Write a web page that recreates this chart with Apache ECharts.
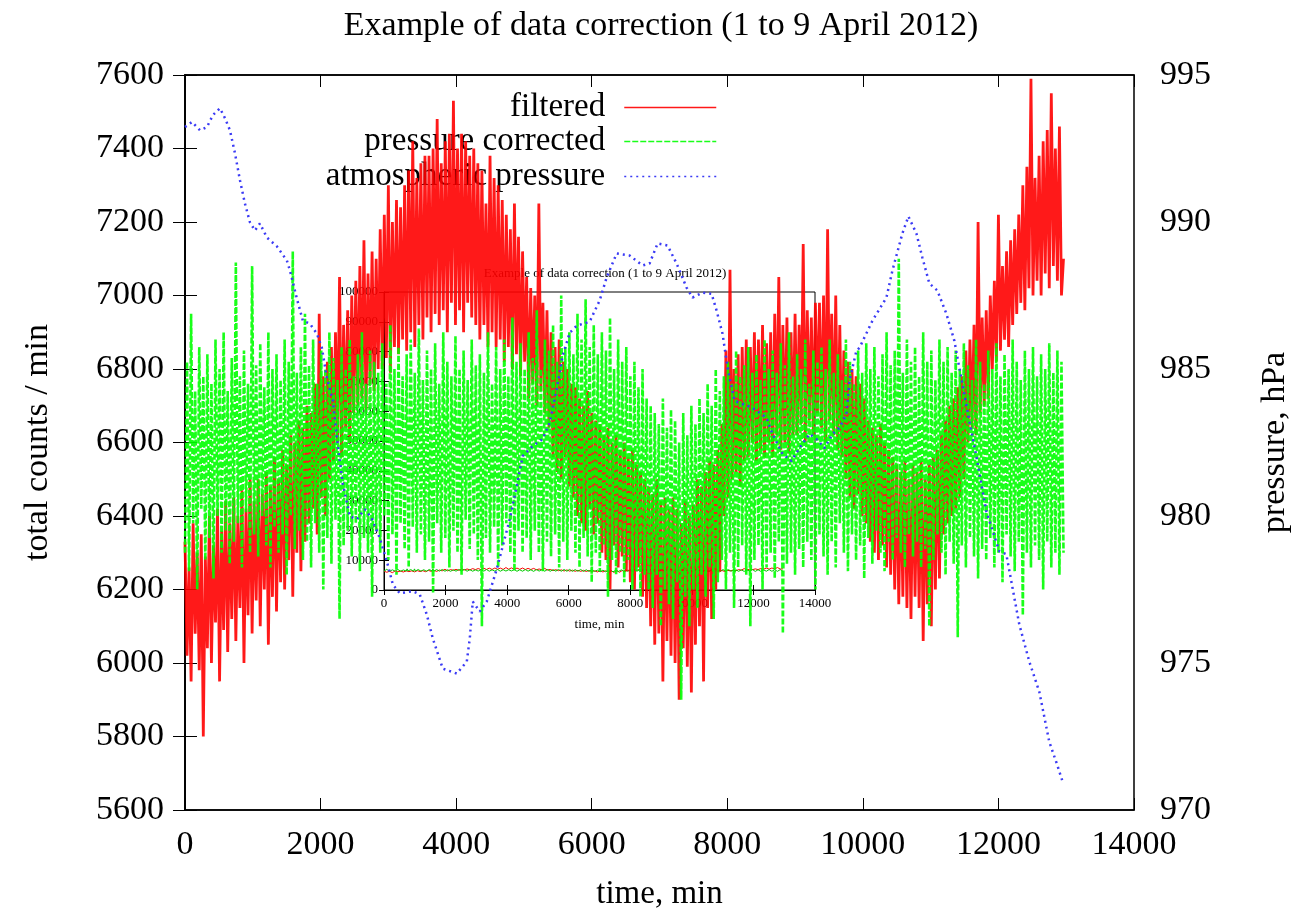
<!DOCTYPE html>
<html>
<head>
<meta charset="utf-8">
<script src="https://cdn.jsdelivr.net/npm/echarts@6/dist/echarts.min.js"></script>
<style>
  html, body { margin: 0; padding: 0; background: #fff; overflow: hidden; }
  #chart { width: 1293px; height: 915px; }
</style>
</head>
<body>
<div id="chart"></div>
<script>
// sampling step of the count series, minutes
var STEP_MIN = 30;

// filtered total counts / min (red), one value per STEP_MIN (12 values = 6 h per row)
var filteredCounts = [
  6330, 6020, 6260, 5950, 6380, 6080, 6300, 5980, 6350, 5800, 6290, 6040,
  6400, 6000, 6320, 6110, 6420, 5950, 6360, 6090, 6440, 6030, 6380, 6120,
  6450, 6060, 6400, 6150, 6470, 6000, 6420, 6130, 6500, 6080, 6440, 6170,
  6500, 6100, 6460, 6200, 6520, 6050, 6480, 6180, 6560, 6140, 6500, 6220,
  6580, 6200, 6540, 6280, 6620, 6180, 6600, 6300, 6660, 6250, 6640, 6330,
  6700, 6380, 6680, 6420, 6760, 6350, 6950, 6450, 6780, 6400, 6820, 6500,
  6860, 6550, 6900, 6600, 7050, 6560, 6920, 6640, 6960, 6600, 7000, 6680,
  7040, 6700, 7080, 6720, 7150, 6690, 7060, 6760, 7120, 6740, 7100, 6800,
  7180, 6800, 7220, 6830, 7300, 6790, 7200, 6860, 7260, 6840, 7240, 6880,
  7300, 6850, 7340, 6900, 7420, 6860, 7320, 6920, 7360, 6880, 7380, 6940,
  7380, 6900, 7400, 6950, 7480, 6920, 7360, 6960, 7420, 6900, 7440, 6980,
  7530, 6920, 7400, 6960, 7440, 6900, 7420, 6980, 7380, 6940, 7400, 6920,
  7360, 6880, 7340, 6920, 7250, 6860, 7380, 6900, 7320, 6860, 7300, 6880,
  7260, 6820, 7220, 6860, 7180, 6800, 7250, 6840, 7160, 6780, 7120, 6820,
  7050, 6720, 7020, 6760, 7000, 6700, 7250, 6740, 6980, 6680, 6960, 6640,
  6900, 6560, 6860, 6520, 6880, 6500, 6820, 6560, 6800, 6480, 6760, 6450,
  6750, 6400, 6720, 6380, 6700, 6360, 6740, 6420, 6680, 6350, 6660, 6380,
  6650, 6300, 6620, 6280, 6640, 6200, 6600, 6320, 6620, 6260, 6580, 6290,
  6600, 6250, 6560, 6220, 6580, 6200, 6540, 6260, 6520, 6180, 6500, 6150,
  6480, 6100, 6460, 6050, 6500, 6080, 6440, 5950, 6450, 6060, 6420, 6020,
  6450, 6000, 6420, 5900, 6380, 6040, 6440, 5990, 6400, 5920, 6430, 6050,
  6500, 6100, 6480, 5950, 6520, 6150, 6550, 6120, 6540, 6200, 6580, 6250,
  6650, 6400, 6850, 6450, 7070, 6500, 6800, 6520, 6840, 6480, 6860, 6550,
  6880, 6560, 6860, 6600, 6900, 6550, 6880, 6580, 6920, 6560, 6870, 6600,
  6900, 6560, 6950, 6620, 7050, 6580, 6920, 6600, 6940, 6570, 6900, 6620,
  6950, 6620, 6920, 6650, 7140, 6600, 6960, 6660, 6940, 6620, 6980, 6680,
  6980, 6640, 7000, 6600, 7180, 6660, 6950, 6620, 7000, 6580, 6920, 6560,
  6850, 6500, 6820, 6450, 6800, 6420, 6780, 6460, 6760, 6400, 6720, 6380,
  6660, 6330, 6640, 6300, 6620, 6280, 6650, 6320, 6600, 6260, 6580, 6240,
  6560, 6200, 6540, 6160, 6520, 6180, 6550, 6150, 6500, 6120, 6540, 6180,
  6520, 6150, 6550, 6060, 6500, 6160, 6540, 6100, 6560, 6200, 6580, 6230,
  6620, 6350, 6660, 6380, 6700, 6400, 6720, 6420, 6750, 6450, 6780, 6500,
  6850, 6600, 6880, 6640, 6920, 6620, 7200, 6680, 6940, 6700, 6960, 6720,
  7000, 6800, 7040, 6820, 7220, 6850, 7080, 6880, 7120, 6860, 7150, 6920,
  7180, 6950, 7220, 6980, 7300, 6960, 7350, 7020, 7590, 7000, 7320, 7040,
  7380, 7000, 7420, 7060, 7450, 7020, 7550, 7080, 7400, 7040, 7460, 7000,
  7100
];

// pressure corrected total counts / min (green), one value per STEP_MIN
var correctedCounts = [
  6300, 6820, 6250, 6950, 6380, 6740, 6200, 6860, 6420, 6780, 6280, 6840,
  6340, 6760, 6230, 6880, 6400, 6800, 6300, 6900, 6360, 6740, 6270, 6830,
  6330, 7090, 6380, 6780, 6260, 6850, 6410, 6760, 6300, 7080, 6350, 6810,
  6290, 6870, 6400, 6750, 6320, 6900, 6260, 6800, 6370, 6840, 6300, 6770,
  6350, 6880, 6240, 6820, 6400, 7120, 6310, 6790, 6360, 6860, 6280, 6950,
  6330, 6810, 6260, 6880, 6380, 6760, 6300, 6850, 6200, 6800, 6340, 6900,
  6270, 6830, 6390, 6770, 6120, 6860, 6320, 6800, 6360, 6880, 6290, 6780,
  6380, 6840, 6250, 6900, 6340, 6760, 6300, 6850, 6180, 6820, 6360, 6790,
  6300, 6870, 6400, 6760, 6280, 6920, 6350, 6800, 6240, 6860, 6380, 6780,
  6310, 6840, 6260, 6880, 6370, 6790, 6300, 6910, 6350, 6770, 6280, 6850,
  6330, 6800, 6190, 6870, 6380, 6760, 6300, 6900, 6340, 6820, 6260, 6780,
  6360, 6890, 6300, 6800, 6240, 6850, 6390, 6770, 6310, 6880, 6350, 6810,
  6280, 6840, 6100, 6790, 6340, 6900, 6300, 6760, 6370, 6860, 6260, 6800,
  6320, 6880, 6380, 6780, 6300, 6940, 6250, 6820, 6360, 6870, 6300, 6800,
  6340, 6900, 6280, 6830, 6360, 6960, 6300, 6800, 6250, 6880, 6330, 6850,
  6290, 6920, 6350, 6820, 6260, 7000, 6330, 6860, 6280, 6900, 6360, 6840,
  6300, 6950, 6260, 6880, 6340, 6990, 6290, 6860, 6220, 6920, 6300, 6840,
  6250, 6900, 6320, 6850, 6180, 6940, 6280, 6800, 6240, 6880, 6300, 6820,
  6220, 6860, 6280, 6780, 6200, 6820, 6250, 6750, 6180, 6800, 6240, 6720,
  6200, 6700, 6150, 6680, 6240, 6650, 6100, 6720, 6200, 6640, 6160, 6690,
  6120, 6660, 6220, 6600, 5900, 6680, 6180, 6620, 6100, 6700, 6200, 6650,
  6150, 6720, 6240, 6680, 6180, 6760, 6260, 6700, 6120, 6800, 6220, 6740,
  6280, 6780, 6200, 6820, 6300, 6760, 6150, 6850, 6260, 6780, 6320, 6810,
  6240, 6860, 6100, 6790, 6280, 6840, 6320, 6770, 6200, 6880, 6260, 6800,
  6300, 6850, 6230, 6790, 6330, 6870, 6080, 6810, 6270, 6900, 6300, 6780,
  6240, 6840, 6310, 6800, 6260, 6880, 6330, 6760, 6280, 6850, 6200, 6820,
  6350, 6860, 6290, 6800, 6240, 6880, 6330, 6790, 6260, 6840, 6380, 6770,
  6300, 6880, 6250, 6820, 6350, 6760, 6280, 6850, 6320, 6790, 6230, 6870,
  6340, 6800, 6270, 6860, 6360, 6780, 6300, 6840, 6250, 6900, 6330, 6810,
  6280, 6850, 6340, 7100, 6300, 6790, 6260, 6880, 6350, 6820, 6290, 6860,
  6330, 6780, 6260, 6900, 6310, 6820, 6100, 6850, 6280, 6770, 6350, 6880,
  6300, 6820, 6240, 6860, 6330, 6790, 6270, 6850, 6070, 6800, 6320, 6870,
  6260, 6810, 6340, 6770, 6290, 6880, 6230, 6820, 6310, 6760, 6280, 6850,
  6340, 6800, 6260, 6870, 6300, 6780, 6220, 6840, 6350, 6800, 6290, 6880,
  6250, 6820, 6330, 6770, 6130, 6850, 6300, 6800, 6260, 6860, 6320, 6780,
  6280, 6840, 6200, 6800, 6330, 6870, 6260, 6790, 6300, 6850, 6240, 6820,
  6300
];

// atmospheric pressure (blue), read point by point
var pressureMinutes = [
  0, 103, 221, 324, 413, 516, 590, 663, 737, 811, 884, 958, 1032, 1105, 1209,
  1356, 1503, 1548, 1651, 1739, 1843, 1946, 2019, 2093, 2182, 2255, 2329, 2432,
  2535, 2653, 2756, 2874, 2978, 3066, 3169, 3361, 3464, 3567, 3656, 3803, 4009,
  4157, 4201, 4245, 4348, 4451, 4599, 4687, 4791, 4894, 4982, 5130, 5277, 5380,
  5484, 5572, 5675, 5778, 5970, 6117, 6220, 6368, 6559, 6751, 6854, 6972, 7119,
  7252, 7399, 7488, 7635, 7768, 7842, 7930, 8004, 8107, 8225, 8372, 8579, 8667,
  8815, 8947, 9065, 9213, 9316, 9434, 9552, 9655, 9758, 9802, 9905, 9950, 10141,
  10348, 10436, 10583, 10672, 10790, 10878, 10981, 11099, 11232, 11350, 11423,
  11497, 11571, 11674, 11821, 12013, 12116, 12308, 12455, 12603, 12750, 12868, 12957
];
var pressureHpa = [
  993.23, 993.40, 993.12, 993.23, 993.64, 993.87, 993.53, 993.12, 992.34, 991.42,
  990.63, 989.99, 989.71, 989.95, 989.47, 989.17, 988.69, 988.35, 987.39, 986.64,
  986.54, 986.20, 985.72, 984.70, 983.92, 982.38, 981.08, 979.99, 979.89, 980.23,
  979.92, 979.24, 978.46, 977.67, 977.37, 977.44, 977.33, 976.65, 975.83, 974.81,
  974.64, 975.05, 975.83, 977.09, 976.75, 977.09, 978.19, 978.97, 979.89, 981.02,
  982.04, 982.38, 982.62, 983.17, 984.33, 985.45, 986.23, 986.47, 986.61, 987.33,
  988.11, 988.93, 988.86, 988.52, 988.59, 989.27, 989.20, 988.59, 987.77, 987.43,
  987.60, 987.56, 986.99, 986.20, 985.04, 983.92, 983.81, 983.68, 983.34, 982.79,
  982.11, 981.87, 982.31, 982.79, 982.62, 982.31, 982.79, 983.00, 983.47, 984.60,
  985.62, 985.72, 986.64, 987.43, 988.35, 989.61, 990.19, 989.61, 988.79, 987.91,
  987.67, 986.88, 985.96, 985.04, 984.15, 983.23, 982.04, 980.16, 978.80, 978.70,
  976.31, 975.05, 974.02, 972.32, 971.53, 970.89
];

var FONT = 'Liberation Serif';

function countPairs(arr) {
  return arr.map(function (v, i) { return [i * STEP_MIN, v]; });
}
var filteredData = countPairs(filteredCounts);
var correctedData = countPairs(correctedCounts);
var pressureData = pressureMinutes.map(function (t, i) { return [t, pressureHpa[i]]; });

function plain(v) { return String(v); }

var chart = echarts.init(document.getElementById('chart'), null, { renderer: 'canvas' });

function legendBox(name, top) {
  return {
    data: [name],
    right: 571,
    top: top,
    orient: 'vertical',
    align: 'right',
    itemWidth: 92,
    itemHeight: 14,
    selectedMode: false,
    itemStyle: { opacity: 0 },
    lineStyle: { width: 1.5 },
    textStyle: { fontFamily: FONT, fontSize: 33, color: '#000', padding: [0, 14, 0, 0] }
  };
}

var option = {
  animation: false,
  backgroundColor: '#fff',
  title: [
    {
      text: 'Example of data correction (1 to 9 April 2012)',
      left: 656, top: 4, textAlign: 'center',
      textStyle: { fontFamily: FONT, fontSize: 34, fontWeight: 'normal', color: '#000' }
    },
    {
      // title of the small inset plot
      text: 'Example of data correction (1 to 9 April 2012)',
      left: 600, top: 262, textAlign: 'center', z: 1,
      textStyle: { fontFamily: FONT, fontSize: 13, fontWeight: 'normal', color: '#000' }
    }
  ],
  legend: [
    legendBox('filtered', 86),
    legendBox('pressure corrected', 120),
    legendBox('atmospheric pressure', 155)
  ],
  grid: [
    { left: 185, right: 159, top: 75, bottom: 105, outerBoundsMode: 'none',
      show: true, borderColor: '#000', borderWidth: 1.5, z: 0 },
    { left: 384, right: 478, top: 292, bottom: 325, outerBoundsMode: 'none',
      show: true, backgroundColor: '#fff', borderColor: '#000', borderWidth: 1, z: 0 }
  ],
  xAxis: [
    {
      type: 'value', gridIndex: 0, min: 0, max: 14000, interval: 2000,
      name: 'time, min', nameLocation: 'middle', nameGap: 68,
      nameTextStyle: { fontFamily: FONT, fontSize: 33, color: '#000' },
      axisLine: { show: true, lineStyle: { color: '#000', width: 1.5 } },
      axisTick: { inside: true, length: 12, lineStyle: { color: '#000' } },
      axisLabel: { fontFamily: FONT, fontSize: 34, color: '#000', margin: 18, formatter: plain },
      splitLine: { show: false }
    },
    {
      type: 'value', gridIndex: 0, position: 'top', min: 0, max: 14000, interval: 2000,
      axisLine: { show: true, lineStyle: { color: '#000', width: 1.5 } },
      axisTick: { inside: true, length: 12, lineStyle: { color: '#000' } },
      axisLabel: { show: false },
      splitLine: { show: false }
    },
    {
      type: 'value', gridIndex: 1, min: 0, max: 14000, interval: 2000, z: 0,
      name: 'time, min', nameLocation: 'middle', nameGap: 28,
      nameTextStyle: { fontFamily: FONT, fontSize: 13, color: '#000' },
      axisLine: { show: true, lineStyle: { color: '#000', width: 1 } },
      axisTick: { inside: true, length: 5, lineStyle: { color: '#000' } },
      axisLabel: { fontFamily: FONT, fontSize: 13, color: '#000', margin: 7, formatter: plain },
      splitLine: { show: false }
    },
    {
      type: 'value', gridIndex: 1, position: 'top', min: 0, max: 14000, interval: 2000, z: 0,
      axisLine: { show: true, lineStyle: { color: '#000', width: 1 } },
      axisTick: { inside: true, length: 5, lineStyle: { color: '#000' } },
      axisLabel: { show: false },
      splitLine: { show: false }
    }
  ],
  yAxis: [
    {
      type: 'value', gridIndex: 0, min: 5600, max: 7600, interval: 200,
      name: 'total counts / min', nameLocation: 'middle', nameGap: 130, nameRotate: 90,
      nameTextStyle: { fontFamily: FONT, fontSize: 34, color: '#000' },
      axisLine: { show: true, lineStyle: { color: '#000', width: 1.5 } },
      axisTick: { inside: true, length: 12, lineStyle: { color: '#000' } },
      axisLabel: { fontFamily: FONT, fontSize: 34, color: '#000', margin: 21, formatter: plain },
      splitLine: { show: false }
    },
    {
      type: 'value', gridIndex: 0, position: 'right', min: 970, max: 995, interval: 2.5,
      name: 'pressure, hPa', nameLocation: 'middle', nameGap: 124, nameRotate: 90,
      nameTextStyle: { fontFamily: FONT, fontSize: 34, color: '#000' },
      axisLine: { show: true, lineStyle: { color: '#000', width: 1.5 } },
      axisTick: { inside: true, length: 12, lineStyle: { color: '#000' } },
      axisLabel: {
        fontFamily: FONT, fontSize: 34, color: '#000', margin: 26,
        formatter: function (v) { return v % 5 === 0 ? String(v) : ''; }
      },
      splitLine: { show: false }
    },
    {
      type: 'value', gridIndex: 1, min: 0, max: 100000, interval: 10000, z: 0,
      axisLine: { show: true, lineStyle: { color: '#000', width: 1 } },
      axisTick: { inside: true, length: 5, lineStyle: { color: '#000' } },
      axisLabel: { fontFamily: FONT, fontSize: 13, color: '#000', margin: 6, formatter: plain },
      splitLine: { show: false }
    },
    {
      type: 'value', gridIndex: 1, position: 'right', min: 0, max: 100000, interval: 10000, z: 0,
      axisLine: { show: true, lineStyle: { color: '#000', width: 1 } },
      axisTick: { inside: true, length: 5, lineStyle: { color: '#000' } },
      axisLabel: { show: false },
      splitLine: { show: false }
    }
  ],
  series: [
    // inset: same data on the wide 0..100000 scale, drawn under the main plot
    {
      name: 'inset filtered', type: 'line', xAxisIndex: 2, yAxisIndex: 2, z: 1,
      data: filteredData, symbol: 'none', silent: true,
      lineStyle: { color: '#ff0000', width: 1 }
    },
    {
      name: 'inset corrected', type: 'line', xAxisIndex: 2, yAxisIndex: 2, z: 1,
      data: correctedData, symbol: 'none', silent: true,
      lineStyle: { color: '#00cc00', width: 1 }
    },
    // main plot
    {
      name: 'filtered', type: 'line', xAxisIndex: 0, yAxisIndex: 0, z: 10,
      data: filteredData, symbol: 'none',
      itemStyle: { color: '#ff0000' },
      lineStyle: { color: '#ff0000', width: 2.8, opacity: 0.9 }
    },
    {
      name: 'pressure corrected', type: 'line', xAxisIndex: 0, yAxisIndex: 0, z: 11,
      data: correctedData, symbol: 'none',
      itemStyle: { color: '#00ff00' },
      lineStyle: { color: '#00ff00', width: 2.6, type: [6, 2], opacity: 0.9 }
    },
    {
      name: 'atmospheric pressure', type: 'line', xAxisIndex: 0, yAxisIndex: 1, z: 12,
      data: pressureData, symbol: 'none',
      itemStyle: { color: '#3b3bf5' },
      lineStyle: { color: '#3b3bf5', width: 2.5, type: [2, 4] }
    }
  ]
};

chart.setOption(option);
</script>
</body>
</html>
